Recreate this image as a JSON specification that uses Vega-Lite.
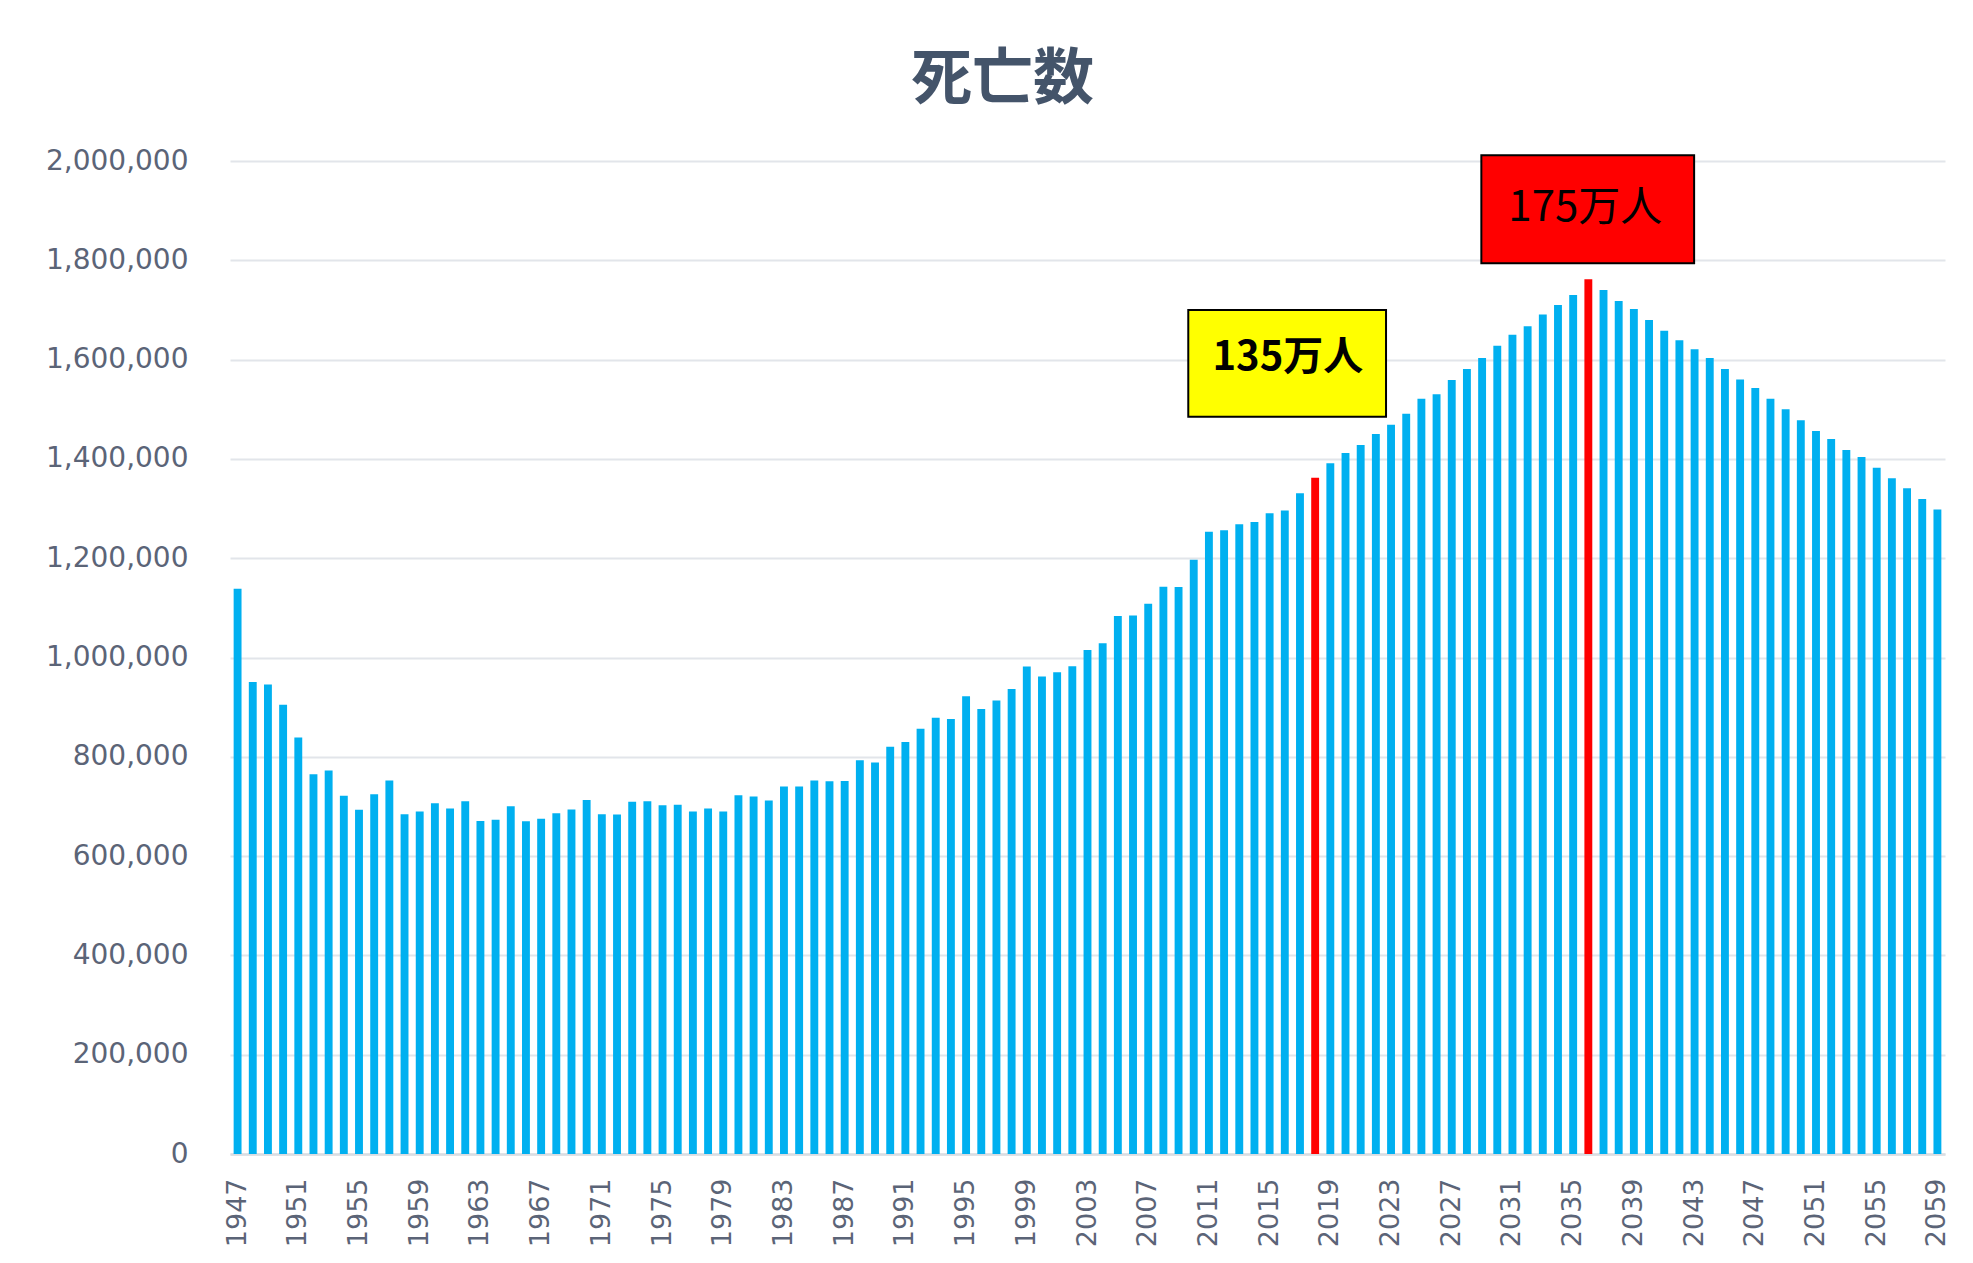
{
  "$schema": "https://vega.github.io/schema/vega-lite/v6.json",
  "width": 1715,
  "height": 993,
  "autosize": {"type": "none"},
  "padding": {"left": 230, "top": 161, "right": 28, "bottom": 109},
  "background": "#FFFFFF",
  "config": {"view": {"stroke": null}},
  "title": {
    "text": "死亡数",
    "font": "Noto Sans CJK JP",
    "fontSize": 61,
    "fontWeight": "bold",
    "color": "#44546A",
    "anchor": "middle",
    "frame": "group",
    "dx": -85,
    "offset": 35
  },
  "datasets": {
    "deaths": [
      {"year": 1947, "deaths": 1138238}, {"year": 1948, "deaths": 950610}, {"year": 1949, "deaths": 945444},
      {"year": 1950, "deaths": 904876}, {"year": 1951, "deaths": 838998}, {"year": 1952, "deaths": 765068},
      {"year": 1953, "deaths": 772547}, {"year": 1954, "deaths": 721491}, {"year": 1955, "deaths": 693523},
      {"year": 1956, "deaths": 724460}, {"year": 1957, "deaths": 752445}, {"year": 1958, "deaths": 684189},
      {"year": 1959, "deaths": 689959}, {"year": 1960, "deaths": 706599}, {"year": 1961, "deaths": 695644},
      {"year": 1962, "deaths": 710265}, {"year": 1963, "deaths": 670770}, {"year": 1964, "deaths": 673067},
      {"year": 1965, "deaths": 700438}, {"year": 1966, "deaths": 670342}, {"year": 1967, "deaths": 675006},
      {"year": 1968, "deaths": 686555}, {"year": 1969, "deaths": 693787}, {"year": 1970, "deaths": 712962},
      {"year": 1971, "deaths": 684521}, {"year": 1972, "deaths": 683751}, {"year": 1973, "deaths": 709416},
      {"year": 1974, "deaths": 710510}, {"year": 1975, "deaths": 702275}, {"year": 1976, "deaths": 703270},
      {"year": 1977, "deaths": 690074}, {"year": 1978, "deaths": 695821}, {"year": 1979, "deaths": 689664},
      {"year": 1980, "deaths": 722801}, {"year": 1981, "deaths": 720262}, {"year": 1982, "deaths": 711883},
      {"year": 1983, "deaths": 740038}, {"year": 1984, "deaths": 740247}, {"year": 1985, "deaths": 752283},
      {"year": 1986, "deaths": 750620}, {"year": 1987, "deaths": 751172}, {"year": 1988, "deaths": 793014},
      {"year": 1989, "deaths": 788594}, {"year": 1990, "deaths": 820305}, {"year": 1991, "deaths": 829797},
      {"year": 1992, "deaths": 856643}, {"year": 1993, "deaths": 878532}, {"year": 1994, "deaths": 875933},
      {"year": 1995, "deaths": 922139}, {"year": 1996, "deaths": 896211}, {"year": 1997, "deaths": 913402},
      {"year": 1998, "deaths": 936484}, {"year": 1999, "deaths": 982031}, {"year": 2000, "deaths": 961653},
      {"year": 2001, "deaths": 970331}, {"year": 2002, "deaths": 982379}, {"year": 2003, "deaths": 1014951},
      {"year": 2004, "deaths": 1028602}, {"year": 2005, "deaths": 1083796}, {"year": 2006, "deaths": 1084450},
      {"year": 2007, "deaths": 1108334}, {"year": 2008, "deaths": 1142407}, {"year": 2009, "deaths": 1141865},
      {"year": 2010, "deaths": 1197014}, {"year": 2011, "deaths": 1253066}, {"year": 2012, "deaths": 1256359},
      {"year": 2013, "deaths": 1268436}, {"year": 2014, "deaths": 1273004}, {"year": 2015, "deaths": 1290444},
      {"year": 2016, "deaths": 1296000}, {"year": 2017, "deaths": 1331000}, {"year": 2018, "deaths": 1362000},
      {"year": 2019, "deaths": 1391000}, {"year": 2020, "deaths": 1412000}, {"year": 2021, "deaths": 1428000},
      {"year": 2022, "deaths": 1450000}, {"year": 2023, "deaths": 1469000}, {"year": 2024, "deaths": 1491000},
      {"year": 2025, "deaths": 1521000}, {"year": 2026, "deaths": 1530000}, {"year": 2027, "deaths": 1559000},
      {"year": 2028, "deaths": 1581000}, {"year": 2029, "deaths": 1603000}, {"year": 2030, "deaths": 1628000},
      {"year": 2031, "deaths": 1650000}, {"year": 2032, "deaths": 1667000}, {"year": 2033, "deaths": 1691000},
      {"year": 2034, "deaths": 1710000}, {"year": 2035, "deaths": 1730000}, {"year": 2036, "deaths": 1762000},
      {"year": 2037, "deaths": 1740000}, {"year": 2038, "deaths": 1718000}, {"year": 2039, "deaths": 1702000},
      {"year": 2040, "deaths": 1680000}, {"year": 2041, "deaths": 1658000}, {"year": 2042, "deaths": 1639000},
      {"year": 2043, "deaths": 1621000}, {"year": 2044, "deaths": 1603000}, {"year": 2045, "deaths": 1581000},
      {"year": 2046, "deaths": 1560000}, {"year": 2047, "deaths": 1543000}, {"year": 2048, "deaths": 1521000},
      {"year": 2049, "deaths": 1500000}, {"year": 2050, "deaths": 1478000}, {"year": 2051, "deaths": 1456000},
      {"year": 2052, "deaths": 1440000}, {"year": 2053, "deaths": 1418000}, {"year": 2054, "deaths": 1404000},
      {"year": 2055, "deaths": 1382000}, {"year": 2056, "deaths": 1361000}, {"year": 2057, "deaths": 1341000},
      {"year": 2058, "deaths": 1319000}, {"year": 2059, "deaths": 1298000}
    ],
    "notes": [
      {"label": "135万人", "center": 2016.2, "level": 1603000, "left": 2009.64, "right": 2022.67, "low": 1485000, "high": 1700000},
      {"label": "175万人", "center": 2035.8, "level": 1905000, "left": 2028.95, "right": 2042.97, "low": 1794000, "high": 2011500}
    ]
  },
  "layer": [
    {
      "data": {"name": "deaths"},
      "mark": {"type": "bar"},
      "encoding": {
        "x": {
          "field": "year",
          "type": "ordinal",
          "scale": {"paddingInner": 0.48, "paddingOuter": 0.24},
          "axis": {
            "title": null,
            "values": [1947, 1951, 1955, 1959, 1963, 1967, 1971, 1975, 1979, 1983, 1987, 1991, 1995, 1999, 2003, 2007, 2011, 2015, 2019, 2023, 2027, 2031, 2035, 2039, 2043, 2047, 2051, 2055, 2059],
            "labelAngle": -90,
            "labelFont": "DejaVu Sans",
            "labelFontSize": 27,
            "labelColor": "#5B6477",
            "labelPadding": 24,
            "ticks": false,
            "tickSize": 0,
            "domainColor": "#DADDE2",
            "domainWidth": 2.5,
            "grid": false
          }
        },
        "y": {
          "field": "deaths",
          "type": "quantitative",
          "scale": {"domain": [0, 2000000], "nice": false},
          "axis": {
            "title": null,
            "values": [0, 200000, 400000, 600000, 800000, 1000000, 1200000, 1400000, 1600000, 1800000, 2000000],
            "format": ",d",
            "labelFont": "DejaVu Sans",
            "labelFontSize": 28,
            "labelColor": "#5B6477",
            "labelPadding": 42,
            "ticks": false,
            "tickSize": 0,
            "domain": false,
            "grid": true,
            "gridColor": "#E2E5EA",
            "gridWidth": 1.8
          }
        },
        "color": {
          "condition": {"test": "datum.year === 2018 || datum.year === 2036", "value": "#FF0000"},
          "value": "#00B0F0"
        }
      }
    },
    {
      "data": {"name": "notes"},
      "mark": {"type": "rect", "stroke": "#000000", "strokeWidth": 2},
      "encoding": {
        "x": {"field": "left", "type": "quantitative", "scale": {"domain": [1946.5, 2059.5], "nice": false, "zero": false}, "axis": null},
        "x2": {"field": "right"},
        "y": {"field": "high", "type": "quantitative", "scale": {"domain": [0, 2000000], "nice": false}},
        "y2": {"field": "low"},
        "fill": {
          "condition": {"test": "datum.label === '175万人'", "value": "#FF0000"},
          "value": "#FFFF00"
        }
      }
    },
    {
      "data": {"name": "notes"},
      "transform": [{"filter": "datum.label === '135万人'"}],
      "mark": {"type": "text", "font": "Noto Sans CJK JP", "fontSize": 40, "fontWeight": "bold", "color": "#000000", "align": "center", "baseline": "middle"},
      "encoding": {
        "x": {"field": "center", "type": "quantitative", "scale": {"domain": [1946.5, 2059.5], "nice": false, "zero": false}, "axis": null},
        "y": {"field": "level", "type": "quantitative", "scale": {"domain": [0, 2000000], "nice": false}},
        "text": {"field": "label"}
      }
    },
    {
      "data": {"name": "notes"},
      "transform": [{"filter": "datum.label === '175万人'"}],
      "mark": {"type": "text", "font": "Noto Sans CJK JP", "fontSize": 42, "fontWeight": "normal", "color": "#000000", "align": "center", "baseline": "middle"},
      "encoding": {
        "x": {"field": "center", "type": "quantitative", "scale": {"domain": [1946.5, 2059.5], "nice": false, "zero": false}, "axis": null},
        "y": {"field": "level", "type": "quantitative", "scale": {"domain": [0, 2000000], "nice": false}},
        "text": {"field": "label"}
      }
    }
  ],
  "resolve": {"scale": {"x": "independent"}}
}
